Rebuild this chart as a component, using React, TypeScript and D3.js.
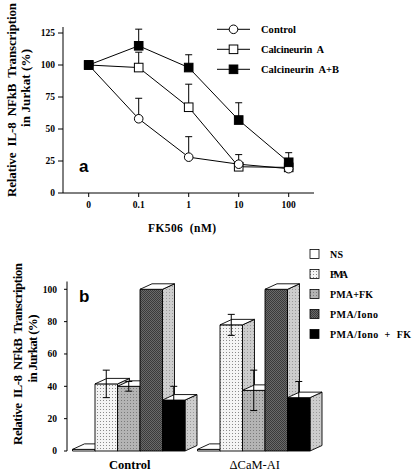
import React from "react";
import * as d3 from "d3";

// ---------- Panel a data ----------
const doses = ["0", "0.1", "1", "10", "100"];
const controlVals = [100, 58, 28, 22.5, 19];
const controlErr = [100, 74, 44, 30, 19];
const calcAVals = [100, 98, 67, 20.5, 20];
const calcAErr = [100, 110, 85, 20.5, 20];
const calcABVals = [100, 115, 98, 57, 24];
const calcABErr = [100, 128, 108, 70.5, 31.5];
const yTicksA = [0, 25, 50, 75, 100, 125];
const seriesNamesA = ["Control", "Calcineurin  A", "Calcineurin  A+B"];

// ---------- Panel b data ----------
const groups = ["Control", "\u0394CaM-AI"];
const treatments = ["N S", "PMA", "PMA+FK", "PMA/Iono", "PMA/Iono  +  FK"];
const controlBars = [1, 41.5, 40, 100, 31.5];
const controlBarErr = [0, 8.5, 3, 0, 8.5];
const camBars = [1, 78, 37.5, 100, 33];
const camBarErr = [0, 6.5, 12.5, 0, 10];
const yTicksB = [0, 20, 40, 60, 80, 100];

const serif = "'Liberation Serif', 'DejaVu Serif', serif";
const sans = "'Liberation Sans', Arial, sans-serif";

const fills = ["#ffffff", "url(#pPMA)", "url(#pFK)", "url(#pIono)", "#000000"];
const yLabel1 = "Relative  IL-8  NFkB  Transcription";
const yLabel2 = "in Jurkat (%)";

export default function App() {
  // Panel a scales
  const xA = d3.scalePoint<string>().domain(doses).range([88.7, 288.7]);
  const yA = d3.scaleLinear().domain([0, 125]).range([193, 33]);
  const line = d3
    .line<number>()
    .x((_, i) => xA(doses[i]) as number)
    .y((d) => yA(d));

  const seriesA = [
    { name: seriesNamesA[0], vals: controlVals, err: controlErr, marker: "circle", fill: "#fff" },
    { name: seriesNamesA[1], vals: calcAVals, err: calcAErr, marker: "square", fill: "#fff" },
    { name: seriesNamesA[2], vals: calcABVals, err: calcABErr, marker: "square", fill: "#000" },
  ];

  const marker = (m: string, fill: string, cx: number, cy: number, key: string) =>
    m === "circle" ? (
      <circle key={key} cx={cx} cy={cy} r={4.3} fill={fill} stroke="#000" strokeWidth={1} />
    ) : (
      <rect key={key} x={cx - 4.3} y={cy - 4.3} width={8.6} height={8.6} fill={fill} stroke="#000" strokeWidth={1} />
    );

  // Panel b scales
  const xB = d3.scaleBand<string>().domain(groups).range([72.5, 310]).paddingInner(0.1).paddingOuter(0);
  const xInner = d3.scaleBand<string>().domain(treatments).range([0, xB.bandwidth()]).padding(0);
  const yB = d3.scaleLinear().domain([0, 100]).range([451, 289.3]);
  const dx = 12;
  const dy = -5.5;

  const barData = [
    { g: groups[0], vals: controlBars, err: controlBarErr },
    { g: groups[1], vals: camBars, err: camBarErr },
  ];

  const pre = { whiteSpace: "pre" as const };

  return (
    <svg width={413} height={476} style={{ position: "absolute", left: 0, top: 0, background: "#fff" }}>
      <defs>
        <pattern id="pPMA" width={3} height={3} patternUnits="userSpaceOnUse">
          <rect width={3} height={3} fill="#f4f4f4" />
          <rect x={1} y={1} width={1} height={1} fill="#8a8a8a" />
        </pattern>
        <pattern id="pFK" width={3} height={3} patternUnits="userSpaceOnUse">
          <rect width={3} height={3} fill="#b4b4b4" />
          <rect x={1} y={1} width={1} height={1} fill="#7a7a7a" />
        </pattern>
        <pattern id="pIono" width={2} height={2} patternUnits="userSpaceOnUse">
          <rect width={2} height={2} fill="#6a6a6a" />
          <rect x={0} y={0} width={1} height={1} fill="#3a3a3a" />
          <rect x={1} y={1} width={1} height={1} fill="#3a3a3a" />
        </pattern>
        <pattern id="pSide" width={3} height={3} patternUnits="userSpaceOnUse">
          <rect width={3} height={3} fill="#cdcdcd" />
          <rect x={1} y={1} width={1} height={1} fill="#9a9a9a" />
        </pattern>
      </defs>

      {/* ================= Panel a ================= */}
      <g fontFamily={serif} fontWeight="bold">
        <text transform="translate(16,100) rotate(-90)" textAnchor="middle" fontSize={13} textLength={194} lengthAdjust="spacing" style={pre}>
          {yLabel1}
        </text>
        <text transform="translate(30,88) rotate(-90)" textAnchor="middle" fontSize={13} textLength={78} lengthAdjust="spacing" style={pre}>
          {yLabel2}
        </text>
        {/* axes */}
        <line x1={63} y1={27} x2={63} y2={193} stroke="#000" strokeWidth={1} />
        <line x1={63} y1={193} x2={314} y2={193} stroke="#000" strokeWidth={1} />
        {yTicksA.map((t) => (
          <g key={t}>
            <line x1={58} x2={63} y1={yA(t)} y2={yA(t)} stroke="#000" />
            <text x={55} y={yA(t) + 3.3} textAnchor="end" fontSize={9.5}>
              {t}
            </text>
          </g>
        ))}
        {doses.map((d) => (
          <g key={d}>
            <line x1={xA(d)} x2={xA(d)} y1={193} y2={197} stroke="#000" />
            <text x={xA(d)} y={208} textAnchor="middle" fontSize={9.5}>
              {d}
            </text>
          </g>
        ))}
        <text x={182} y={232} textAnchor="middle" fontSize={11.5} textLength={68} lengthAdjust="spacing" style={pre}>
          {"FK506  (nM)"}
        </text>
        <text x={79} y={172} fontFamily={sans} fontWeight="bold" fontSize={17}>
          a
        </text>

        {/* lines */}
        {seriesA.map((s) => (
          <path key={s.name} d={line(s.vals) as string} fill="none" stroke="#000" strokeWidth={1} />
        ))}
        {/* error bars (upward) */}
        {seriesA.map((s) =>
          s.vals.map((v, i) =>
            s.err[i] > v + 0.5 ? (
              <g key={s.name + i}>
                <line x1={xA(doses[i])} x2={xA(doses[i])} y1={yA(v)} y2={yA(s.err[i])} stroke="#000" />
                <line x1={(xA(doses[i]) as number) - 3.5} x2={(xA(doses[i]) as number) + 3.5} y1={yA(s.err[i])} y2={yA(s.err[i])} stroke="#000" />
              </g>
            ) : null
          )
        )}
        {/* markers */}
        {[seriesA[1], seriesA[0], seriesA[2]].map((s) =>
          s.vals.map((v, i) => marker(s.marker, s.fill, xA(doses[i]) as number, yA(v), s.name + "m" + i))
        )}

        {/* legend a */}
        {seriesA.map((s, i) => {
          const y = 29.3 + i * 20;
          return (
            <g key={s.name}>
              <line x1={217} x2={250} y1={y} y2={y} stroke="#000" />
              {marker(s.marker, s.fill, 233.5, y, "lg" + i)}
              <text x={261} y={y + 3.5} fontSize={10.5} textLength={[35, 63, 78][i]} lengthAdjust="spacing" style={pre}>
                {s.name}
              </text>
            </g>
          );
        })}
      </g>

      {/* ================= Panel b ================= */}
      <g fontFamily={serif} fontWeight="bold">
        <text transform="translate(22,354) rotate(-90)" textAnchor="middle" fontSize={13} textLength={182} lengthAdjust="spacing" style={pre}>
          {yLabel1}
        </text>
        <text transform="translate(36.5,348.5) rotate(-90)" textAnchor="middle" fontSize={13} textLength={68} lengthAdjust="spacing" style={pre}>
          {yLabel2}
        </text>
        <line x1={67} y1={281.5} x2={67} y2={451} stroke="#000" />
        {yTicksB.map((t) => (
          <g key={t}>
            <line x1={64} x2={67} y1={yB(t)} y2={yB(t)} stroke="#000" />
            <text x={57} y={yB(t) + 3.3} textAnchor="end" fontSize={9.5}>
              {t}
            </text>
          </g>
        ))}
        <text x={79} y={301.5} fontFamily={sans} fontWeight="bold" fontSize={17}>
          b
        </text>

        {barData.map((grp) => (
          <g key={grp.g}>
            {grp.vals.map((v, i) => {
              const x0 = (xB(grp.g) as number) + (xInner(treatments[i]) as number);
              const w = xInner.bandwidth();
              const x1 = x0 + w;
              const yt = yB(v);
              const yb = yB(0);
              const front = `M${x0},${yb}L${x1},${yb}L${x1},${yt}L${x0},${yt}Z`;
              const top = `M${x0},${yt}L${x1},${yt}L${x1 + dx},${yt + dy}L${x0 + dx},${yt + dy}Z`;
              const side = `M${x1},${yb}L${x1 + dx},${yb + dy}L${x1 + dx},${yt + dy}L${x1},${yt}Z`;
              const cx = x0 + w / 2;
              const e = grp.err[i];
              return (
                <g key={i}>
                  <path d={side} fill="url(#pSide)" stroke="#000" strokeWidth={0.9} />
                  <path d={front} fill={fills[i]} stroke="#000" strokeWidth={0.9} />
                  <path d={top} fill="#fff" stroke="#000" strokeWidth={0.9} />
                  {e > 0 ? (
                    <g stroke="#000" strokeWidth={1}>
                      <line x1={cx} x2={cx} y1={yB(v + e)} y2={yB(v - e)} />
                      <line x1={cx - 3.5} x2={cx + 3.5} y1={yB(v + e)} y2={yB(v + e)} />
                      <line x1={cx - 3.5} x2={cx + 3.5} y1={yB(v - e)} y2={yB(v - e)} />
                    </g>
                  ) : null}
                </g>
              );
            })}
            <text
              x={(xB(grp.g) as number) + xB.bandwidth() / 2 + 1}
              y={469}
              textAnchor="middle"
              fontSize={12.5}
              fontWeight={grp.g === groups[0] ? "bold" : "normal"}
            >
              {grp.g}
            </text>
          </g>
        ))}

        {/* legend b */}
        {treatments.map((t, i) => {
          const y = 254 + i * 20;
          return (
            <g key={t}>
              <rect x={310} y={y - 4.5} width={9} height={9} fill={fills[i]} stroke="#000" strokeWidth={0.8} />
              <text x={330} y={y + 3.5} fontSize={10} textLength={[13, 18, 43, 48, 81][i]} lengthAdjust="spacing" style={pre}>
                {t}
              </text>
            </g>
          );
        })}
      </g>
    </svg>
  );
}
